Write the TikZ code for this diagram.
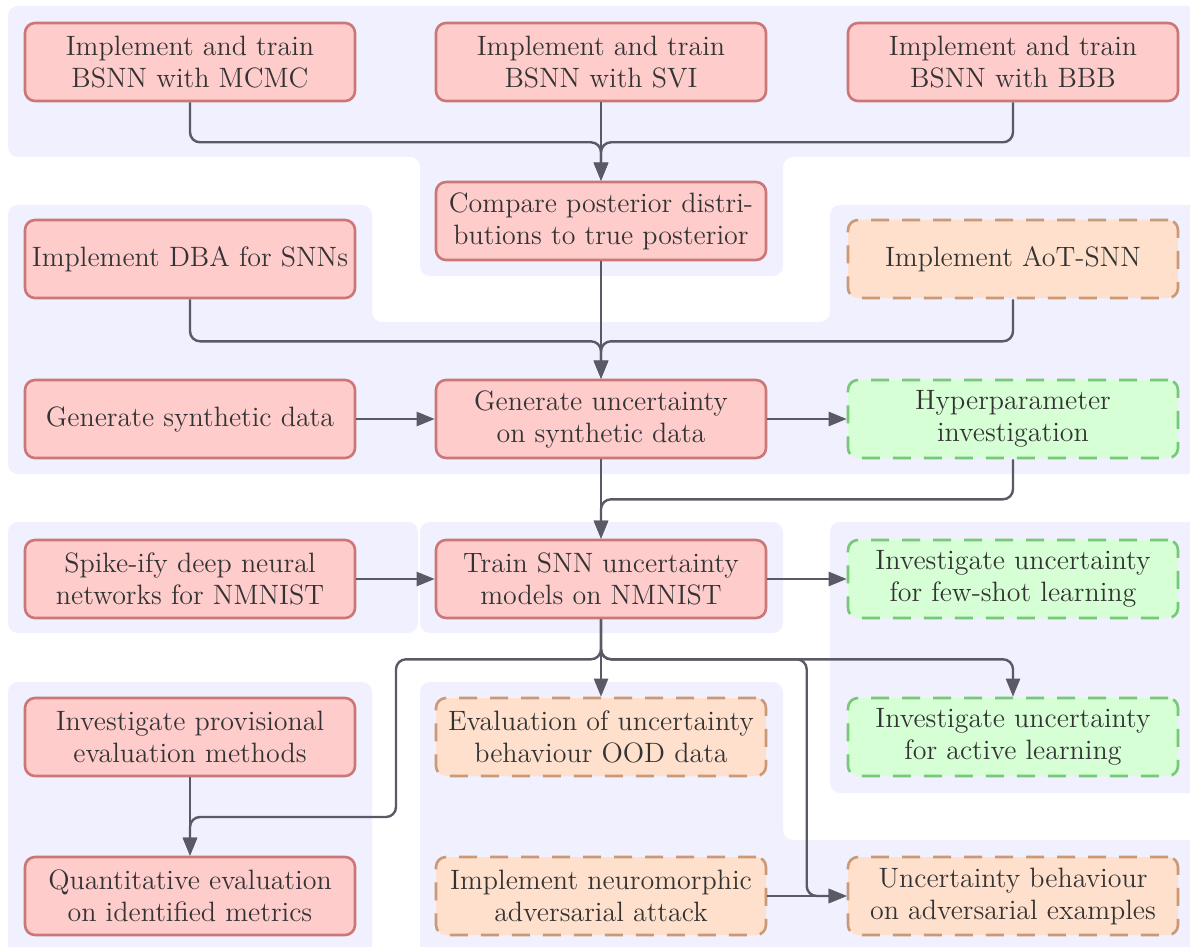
\documentclass[tikz,border=0pt]{standalone}
\usepackage{tikz}
\usetikzlibrary{arrows.meta}

\definecolor{groupbg}{RGB}{240,240,254}
\definecolor{taskfill}{RGB}{255,204,204}
\definecolor{taskline}{RGB}{204,119,119}
\definecolor{optfill}{RGB}{255,224,204}
\definecolor{optline}{RGB}{204,153,119}
\definecolor{extfill}{RGB}{214,255,214}
\definecolor{extline}{RGB}{119,200,119}
\definecolor{flowgray}{RGB}{90,90,102}
\definecolor{txtgray}{RGB}{51,51,51}

\tikzset{
	task/.style={rectangle, rounded corners=5pt, draw=taskline, fill=taskfill, line width=1.3pt,
		minimum width=165pt, minimum height=39pt, align=center, text=txtgray,
		font=\fontsize{14}{16}\selectfont},
	optional/.style={task, draw=optline, fill=optfill, dash pattern=on 9pt off 6.5pt},
	extension/.style={task, draw=extline, fill=extfill, dash pattern=on 9pt off 6.5pt},
	flow/.style={-{Triangle[length=9pt, width=7pt]}, line width=1.2pt, draw=flowgray, rounded corners=5pt},
	group/.style={fill=groupbg, rounded corners=5pt}
}

\begin{document}
\begin{tikzpicture}[x=0.5pt, y=-0.5pt]
			\useasboundingbox (0, 0) rectangle (1190, 947);
			% groups
			\fill [group] (8, 6) -- (1200, 6) -- (1200, 157) -- (783, 157) -- (783, 276) -- (420, 276) -- (420, 157) -- (8, 157) -- cycle;
			\fill [group] (8, 205) -- (372, 205) -- (372, 322) -- (830, 322) -- (830, 205) -- (1200, 205) -- (1200, 474) -- (8, 474) -- cycle;
			\fill [group] (8, 522) rectangle (418, 633);
			\fill [group] (420, 522) rectangle (783, 633);
			\fill [group] (830, 522) rectangle (1200, 793);
			\fill [group] (8, 682) rectangle (372, 955);
			\fill [group] (420, 682) -- (783, 682) -- (783, 840) -- (1200, 840) -- (1200, 955) -- (420, 955) -- cycle;

			% tasks
			\node at (190, 62) [task] (mcmc) {Implement and train\\BSNN with MCMC};
			\node at (601, 62) [task] (svi) {Implement and train\\BSNN with SVI};
			\node at (1013, 62) [task] (bbb) {Implement and train\\BSNN with BBB};
			\node at (601, 221) [task] (compare) {Compare posterior distri-\\butions to true posterior};
			\node at (190, 259) [task] (dba) {Implement DBA for SNNs};
			\node at (1013, 259) [optional] (aot) {Implement AoT-SNN};
			\node at (190, 419) [task] (synth) {Generate synthetic data};
			\node at (601, 419) [task] (genunc) {Generate uncertainty\\on synthetic data};
			\node at (1013, 419) [extension] (hyper) {Hyperparameter\\investigation};
			\node at (190, 579) [task] (spike) {Spike-ify deep neural\\networks for NMNIST};
			\node at (601, 579) [task] (train) {Train SNN uncertainty\\models on NMNIST};
			\node at (1013, 579) [extension] (fewshot) {Investigate uncertainty\\for few-shot learning};
			\node at (190, 737) [task] (prov) {Investigate provisional\\evaluation methods};
			\node at (601, 737) [optional] (ood) {Evaluation of uncertainty\\behaviour OOD data};
			\node at (1013, 737) [extension] (active) {Investigate uncertainty\\for active learning};
			\node at (190, 896) [task] (quant) {Quantitative evaluation\\on identified metrics};
			\node at (601, 896) [optional] (attack) {Implement neuromorphic\\adversarial attack};
			\node at (1013, 896) [optional] (advex) {Uncertainty behaviour\\on adversarial examples};

			\coordinate (leftbend) at (396, 817);

			% flows
			\draw [flow] (mcmc.south) -- ++(0, 40) -| (compare.north);
			\draw [flow] (svi) -- (compare);
			\draw [flow] (bbb.south) -- ++(0, 40) -| (compare.north);
			\draw [flow] (compare) -- (genunc);
			\draw [flow] (dba.south) -- ++(0, 42) -| (genunc.north);
			\draw [flow] (aot.south) -- ++(0, 42) -| (genunc.north);
			\draw [flow] (synth) -- (genunc);
			\draw [flow] (genunc) -- (hyper);
			\draw [flow] (genunc) -- (train);
			\draw [flow] (hyper.south) -- ++(0, 40) -| (train.north);
			\draw [flow] (spike) -- (train);
			\draw [flow] (train) -- (fewshot);
			\draw [flow] (train.south) -- ++(0, 40) -| (leftbend) -| (quant.north);
			\draw [flow] (train) -- (ood);
			\draw [flow] (train.south) -- ++(0, 40) -| (active.north);
			\draw [flow] (train.south) -- ++(0, 40) -| ([xshift=-20pt]advex.west) -- (advex.west);
			\draw [flow] (prov) -- (quant);
			\draw [flow] (attack) -- (advex);
		\end{tikzpicture}
\end{document}
